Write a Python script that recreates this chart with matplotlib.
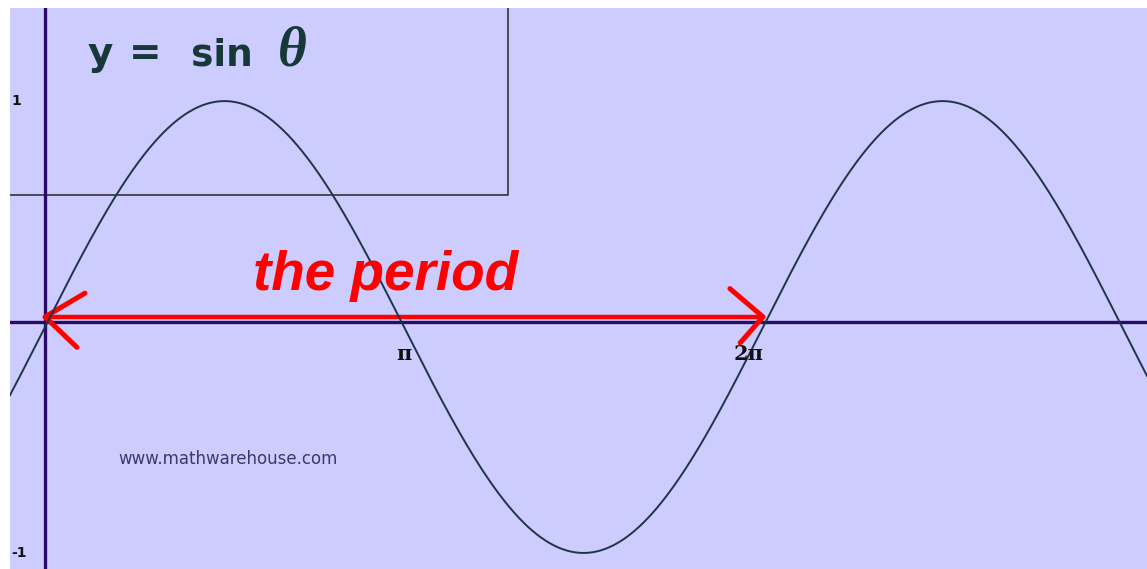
import numpy as np
import matplotlib
matplotlib.use("Agg")
from matplotlib import pyplot as plt

# dados do gráfico
theta_range = [-0.306, 9.643]
theta = np.linspace(theta_range[0], theta_range[1], 800)
y = np.sin(theta)

xtick_pos = [np.pi, 2 * np.pi - 0.13]
xtick_labels = ["π", "2π"]
ytick_pos = [1, -1]
ytick_labels = ["1", "-1"]
period = [0, 2 * np.pi]
title_box = [4.052, 0.584]   # canto do retângulo (x, y)

bg = "#ccccff"
fig = plt.figure(figsize=(11.47, 5.69), dpi=100)
ax = fig.add_axes([10 / 1147, 0, 1137 / 1147, 561 / 569])
ax.set_facecolor(bg)
ax.set_xlim(theta_range)
ax.set_ylim(-1.071, 1.412)
for s in ax.spines.values():
    s.set_visible(False)
ax.set_xticks([]), ax.set_yticks([])

# eixos
axis_y = 0.022
ax.axhline(axis_y, color="#2a0a66", lw=2.4, zorder=2)
ax.axvline(0, color="#2a0a66", lw=2.4, zorder=2)

# curva
ax.plot(theta, y, color="#1e3548", lw=1.4, zorder=4)

# retângulo do título
ax.plot([theta_range[0], title_box[0], title_box[0]],
        [title_box[1], title_box[1], 2], color="#333333", lw=1.2, zorder=1)

# seta do período
ay = 0.045
ax.plot(period, [ay, ay], color="#ff0000", lw=3.2, solid_capstyle="round", zorder=3)
ax.plot([0.35, period[0], 0.28], [0.15, ay, -0.09], color="#ff0000", lw=3.6,
        solid_capstyle="round", zorder=3)
ax.plot([2 * np.pi - 0.29, period[1], 2 * np.pi - 0.2], [0.17, ay, -0.07],
        color="#ff0000", lw=3.6, solid_capstyle="round", zorder=3)
ax.text(1.82, 0.164, "the period", color="#ff0000", fontsize=39.5,
        fontweight="bold", fontstyle="italic", family="Liberation Sans", zorder=5)

# rótulos
for xp, lab in zip(xtick_pos, xtick_labels):
    ax.text(xp, -0.075, lab, ha="center", va="top", fontsize=15, fontweight="bold",
            family="DejaVu Serif", color="#111111", zorder=5)
for yp, lab in zip(ytick_pos, ytick_labels):
    ax.text(theta_range[0] + 0.01, yp, lab, ha="left", va="center", fontsize=10,
            fontweight="bold", color="#111111", zorder=5)

title_col = "#163838"
ax.text(0.37, 1.159, "y", fontsize=28, fontweight="bold", color=title_col,
        va="baseline", zorder=5)
ax.text(0.73, 1.159, "=", fontsize=28, fontweight="bold", color=title_col,
        va="baseline", zorder=5)
ax.text(1.28, 1.159, "sin", fontsize=27, fontweight="bold", color=title_col,
        va="baseline", zorder=5)
ax.text(2.04, 1.159, "θ", fontsize=40, fontweight="bold", fontstyle="italic",
        family="Liberation Serif", color=title_col, va="baseline", zorder=5)

ax.text(0.64, -0.584, "www.mathwarehouse.com", fontsize=12, color="#3a3a6a",
        va="center", zorder=5)

fig.savefig("out.png", dpi=100, facecolor="white")
